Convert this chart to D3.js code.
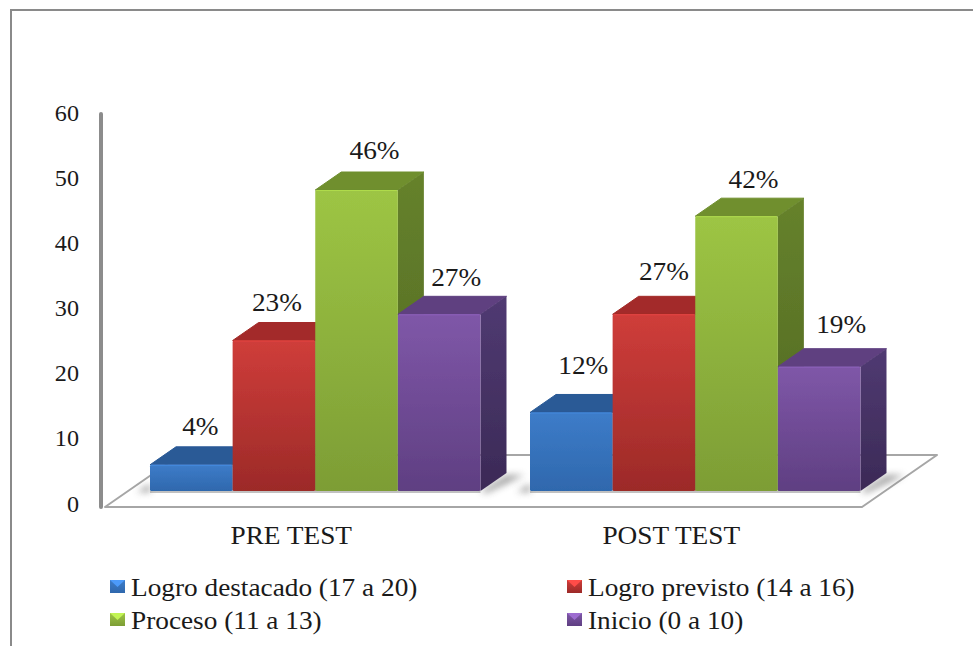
<!DOCTYPE html>
<html><head><meta charset="utf-8">
<script src="https://cdn.jsdelivr.net/npm/d3@7"></script>
<style>html,body{margin:0;padding:0;background:#fff}svg{display:block}text{font-family:"Liberation Serif",serif;fill:#1a1a1a}</style>
</head><body><svg id="c" width="973" height="646"></svg>
<script>
const categories = ["PRE TEST", "POST TEST"];
const seriesNames = ["Logro destacado (17 a 20)", "Logro previsto (14 a 16)", "Proceso (11 a 13)", "Inicio (0 a 10)"];
const preTest = [4, 23, 46, 27];
const postTest = [12, 27, 42, 19];
const tickValues = [0, 10, 20, 30, 40, 50, 60];
const faceTop = ["#3d7cc9", "#cf3d3a", "#9dc544", "#7f57a8"];
const faceBottom = ["#2f68ad", "#9c2a28", "#7d9d35", "#5f3f82"];
const topColor = ["#2a5a96", "#a32b29", "#6f8f2e", "#5f4080"];
const sideTop = ["#234c80", "#8a2321", "#66822c", "#503a72"];
const sideBottom = ["#1c3d68", "#6d1b1a", "#4f6622", "#3b2a56"];
// hand placement of the data labels relative to each bar's back top edge
const labelShift = [[[9, -20], [3, -20], [18, -22], [17, -19]], [[12, -29], [10, -25], [17, -19], [22, -24]]];

const svg = d3.select("#c");
const defs = svg.append("defs");
const dx = 26, dy = 18, stretch = 1.05;
const y = d3.scaleLinear().domain([0, 46]).range([491, 190]);
const yAxisScale = d3.scaleLinear().domain([0, 60]).range([504, 113]);
const x0 = d3.scaleBand().domain(categories).range([108, 868]);
const x1 = d3.scaleBand().domain(d3.range(4)).range([42, 372.5]);

function label(sel, x, yy, str, size, anchor) {
  return sel.append("text").attr("transform", `translate(${x},${yy}) scale(${stretch},1)`)
    .attr("dy", "0.33em").attr("text-anchor", anchor).attr("font-size", size).text(str);
}

seriesNames.forEach((_, i) => {
  const g = defs.append("linearGradient").attr("id", "f" + i).attr("x1", 0).attr("x2", 0).attr("y1", 0).attr("y2", 1);
  g.append("stop").attr("offset", 0).attr("stop-color", faceTop[i]);
  g.append("stop").attr("offset", 1).attr("stop-color", faceBottom[i]);
  const s = defs.append("linearGradient").attr("id", "s" + i).attr("x1", 0).attr("x2", 0).attr("y1", 0).attr("y2", 1);
  s.append("stop").attr("offset", 0).attr("stop-color", sideTop[i]);
  s.append("stop").attr("offset", 1).attr("stop-color", sideBottom[i]);
  const l = defs.append("linearGradient").attr("id", "l" + i).attr("x1", 0).attr("x2", 0).attr("y1", 0).attr("y2", 1);
  l.append("stop").attr("offset", 0).attr("stop-color", faceTop[i]);
  l.append("stop").attr("offset", 1).attr("stop-color", faceBottom[i]);
});
const blur = defs.append("filter").attr("id", "blur").attr("x", "-40%").attr("y", "-100%").attr("width", "180%").attr("height", "300%");
blur.append("feGaussianBlur").attr("stdDeviation", 3.5);
const soft = defs.append("filter").attr("id", "soft");
soft.append("feGaussianBlur").attr("stdDeviation", 0.45);

// page frame: left and top edges only
svg.append("path").attr("d", "M11,646V10H973").attr("fill", "none").attr("stroke", "#8a8a8a").attr("stroke-width", 2);

// floor
const base = y(0);
svg.append("path").attr("d", "M105,507L180,455H937L862,507Z").attr("fill", "#fff").attr("stroke", "#a6a6a6").attr("stroke-width", 2).attr("stroke-linejoin", "round");

// value axis
svg.append("path").attr("d", `M101,${yAxisScale(60) + 1}V507`).attr("stroke", "#8c8c8c").attr("stroke-width", 4).attr("stroke-linecap", "round").attr("fill", "none");
const tickG = svg.append("g");
tickValues.forEach(d => label(tickG, 79, yAxisScale(d), d, 23, "end"));

const rows = [preTest, postTest];
categories.forEach((cat, c) => {
  const left = x0(cat);
  const g = svg.append("g");
  const first = left + x1(0), last = left + x1(3) + x1.bandwidth();
  // shadows on the floor
  g.append("path").attr("d", `M${last},${base}L${last + dx},${base - dy + 2}H${last + dx + 18}L${last + 6},${base + 2}Z`)
    .attr("fill", "#666").attr("opacity", .6).attr("filter", "url(#blur)");
  g.append("path").attr("d", `M${first - 13},${base + 1}L${first},${base - 7}V${base + 1}Z`)
    .attr("fill", "#555").attr("opacity", .6).attr("filter", "url(#blur)");
  g.append("rect").attr("x", first).attr("y", base).attr("width", last - first).attr("height", 2)
    .attr("fill", "#999").attr("opacity", .6).attr("filter", "url(#soft)");
  rows[c].forEach((v, i) => {
    const xa = left + x1(i), w = x1.bandwidth(), t = y(v);
    const b = g.append("g").attr("filter", "url(#soft)");
    b.append("path").attr("d", `M${xa},${t}L${xa + dx},${t - dy}H${xa + w + dx}L${xa + w},${t}Z`).attr("fill", topColor[i]).attr("stroke", topColor[i]).attr("stroke-linejoin", "round");
    b.append("path").attr("d", `M${xa + w},${t}L${xa + w + dx},${t - dy}V${base - dy}L${xa + w},${base}Z`).attr("fill", `url(#s${i})`);
    b.append("rect").attr("x", xa).attr("y", t).attr("width", w).attr("height", base - t).attr("rx", 1.5).attr("fill", `url(#f${i})`);
    b.append("path").attr("d", `M${xa + 1},${t + .5}H${xa + w - 1}`).attr("stroke", d3.color(faceTop[i]).brighter(.3)).attr("stroke-width", 1);
    const [sx, sy] = labelShift[c][i];
    label(svg, xa + w / 2 + sx, t - dy + sy, v + "%", 26, "middle");
  });
  label(svg, (first + last) / 2 - 24, 535, cat, 26, "middle");
});

// legend
const legendX = [110, 567], legendY = [587, 620];
seriesNames.forEach((name, i) => {
  const lx = legendX[i % 2], ly = legendY[Math.floor(i / 2)];
  const g = svg.append("g").attr("transform", `translate(${lx},${ly})`);
  g.append("rect").attr("x", 0).attr("y", -7).attr("width", 15).attr("height", 13).attr("fill", `url(#l${i})`);
  g.append("path").attr("d", "M0,-7H15L7.5,0Z").attr("fill", d3.color(faceTop[i]).brighter(.6));
  label(g, 21, 0, name, 26, "start");
});
</script></body></html>
